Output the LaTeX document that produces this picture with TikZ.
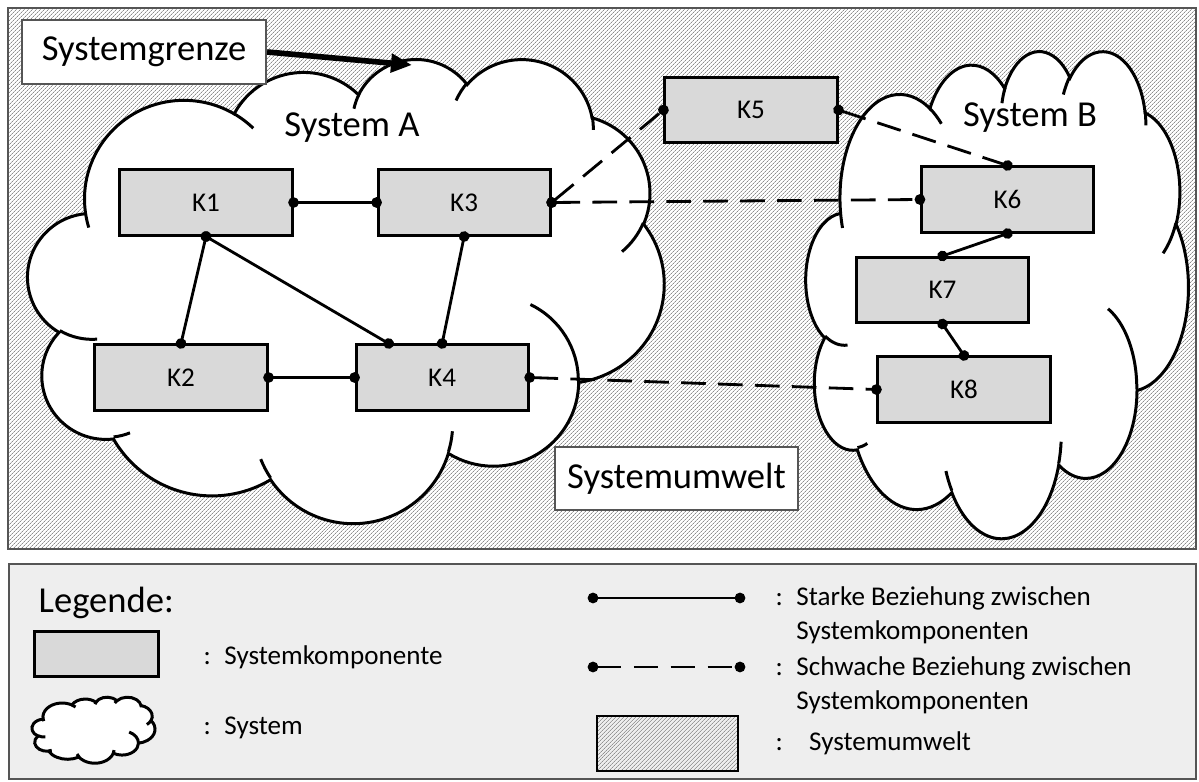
\documentclass[tikz,border=0pt]{standalone}
\usepackage{fontspec}
\setmainfont{Carlito}
\usepackage{tikz}
\usetikzlibrary{arrows.meta, positioning, calc, patterns.meta}

\definecolor{kompgrey}{RGB}{217,217,217}
\definecolor{leggrey}{RGB}{238,238,238}
\definecolor{framegrey}{RGB}{85,85,85}
\definecolor{hatchgrey}{RGB}{140,140,140}

\newcommand\bigfont{\fontsize{10.4}{12.5}\selectfont}
\newcommand\smallfont{\fontsize{7.7}{9.7}\selectfont}

% Wolke (Office-Form, Einheiten 0..432)
\newcommand\ooang[3]{(#3)+asin(sin(atan2((#1)*sin(#3),(#2)*cos(#3))-(#3)))}
\newcommand\ooarc[4]{arc[x radius=#1, y radius=#2, start angle={\ooang{#1}{#2}{#3}}, end angle={\ooang{#1}{#2}{#3+#4}}]}
\newcommand\cloudoutline{(39.00,143.70)
  \ooarc{67.53}{91.90}{-190.4875}{123.7805}
  \ooarc{53.33}{72.67}{-144.1024}{89.9452}
  \ooarc{43.65}{59.45}{-145.8079}{99.7230}
  \ooarc{48.57}{65.95}{-130.9861}{117.2417}
  \ooarc{53.33}{72.73}{-78.7089}{109.0269}
  \ooarc{67.75}{92.20}{-46.2673}{130.2690}
  \ooarc{57.85}{78.67}{0.6250}{114.0333}
  \ooarc{67.52}{92.15}{22.4516}{115.1726}
  \ooarc{77.20}{105.43}{66.2426}{75.7110}
  \ooarc{43.60}{59.18}{-274.9421}{146.7356}
  \ooarc{43.45}{59.45}{-246.8285}{152.5189}
  -- cycle}
\newcommand\cloudcurls{(46.93,261.77) \ooarc{43.45}{59.45}{86.7420}{26.4295}
  (69.28,348.99) \ooarc{43.60}{59.18}{73.6105}{11.4475}
  (164.78,390.90) \ooarc{67.52}{92.15}{137.6242}{14.0811}
  (288.27,347.51) \ooarc{67.52}{92.15}{6.4533}{15.9984}
  (341.29,229.54) \ooarc{57.85}{78.67}{-70.2924}{70.9174}
  (417.98,153.54) \ooarc{53.33}{72.73}{30.3180}{27.7515}
  (383.24,54.26) \ooarc{48.57}{65.95}{-13.7443}{14.8589}
  (290.78,39.52) \ooarc{48.57}{65.95}{-149.1815}{18.1954}
  (221.41,47.20) \ooarc{43.65}{59.45}{-163.4943}{17.6864}
  (140.00,51.92) \ooarc{67.53}{91.90}{-66.7070}{12.3194}
  (41.27,157.89) \ooarc{67.53}{91.90}{157.6544}{11.8582}}

\begin{document}
\begin{tikzpicture}[
        x=0.01cm, y=-0.01cm,
        node distance=0.83cm,
        komp/.style={rectangle, draw=black, line width=0.85pt, fill=kompgrey, minimum width=1.72cm, minimum height=0.65cm, inner sep=0pt, font=\smallfont},
        labelbox/.style={rectangle, draw=framegrey, line width=0.6pt, fill=white, inner sep=0pt, font=\bigfont},
        umwelt/.style={pattern={Lines[angle=45, distance=0.9pt, line width=0.28pt]}, pattern color=hatchgrey},
        cloudline/.style={draw=black, line width=0.85pt},
        strong/.style={line width=0.8pt, {Circle[length=3pt]}-{Circle[length=3pt]}, shorten <=-1.5pt, shorten >=-1.5pt},
        weak/.style={strong, dash pattern=on 7pt off 3.5pt},
        legtext/.style={font=\smallfont, inner sep=0pt, align=left}
    ]
        \useasboundingbox (0,0) rectangle (1199,782);

        % Systemumwelt
        \draw[framegrey, line width=0.6pt, fill=white] (8,8) rectangle (1196,549);
        \fill[umwelt] (8,8) rectangle (1196,549);
        \draw[framegrey, line width=0.6pt] (8,8) rectangle (1196,549);

        % Systeme
        \begin{scope}[shift={(28,58)}, xscale=1.4722, yscale=1.0741]
            \draw[cloudline, fill=white] \cloudoutline;
            \draw[cloudline] \cloudcurls;
        \end{scope}
        \begin{scope}[shift={(806,50)}, xscale=0.885, yscale=1.1273]
            \draw[cloudline, fill=white] \cloudoutline;
            \draw[cloudline] \cloudcurls;
        \end{scope}
        \node[font=\bigfont] (sysA) at (352,128) {System A};
        \node[font=\bigfont] (sysB) at (1030,118) {System B};

        % Komponenten
        \node[komp] (k1) at (206,202.5) {K1};
        \node[komp, right=of k1] (k3) {K3};
        \node[komp] (k2) at (181,377.5) {K2};
        \node[komp, right=0.86cm of k2] (k4) {K4};
        \node[komp] (k5) at (751,110) {K5};
        \node[komp] (k6) at (1007.5,199.5) {K6};
        \node[komp] (k7) at (942.5,290) {K7};
        \node[komp] (k8) at (964,389.5) {K8};

        % Beziehungen
        \draw[strong] (k1.east) -- (k3.west);
        \draw[strong] (k1.south) -- (k2.north);
        \draw[strong] (k1.south) -- ($(k4.north west)+(34,0)$);
        \draw[strong] (k3.south) -- (k4.north);
        \draw[strong] (k2.east) -- (k4.west);
        \draw[strong] (k6.south) -- (k7.north);
        \draw[strong] (k7.south) -- (k8.north);
        \draw[weak] (k3.east) -- (k5.west);
        \draw[weak] (k3.east) -- (k6.west);
        \draw[weak] (k5.east) -- (k6.north);
        \draw[weak] (k4.east) -- (k8.west);

        % Beschriftungen
        \node[labelbox, minimum width=2.44cm, minimum height=0.64cm] (grenze) at (144,52) {Systemgrenze};
        \coordinate (grenzeTip) at (412,65);
        \draw[line width=1.6pt, -{Triangle[length=0.21cm, width=0.18cm]}] (grenze.east) -- (grenzeTip);
        \node[labelbox, minimum width=2.43cm, minimum height=0.63cm] (umweltlabel) at (676.5,478.5) {Systemumwelt};

        % Legende
        \draw[framegrey, line width=0.6pt, fill=leggrey] (9,564) rectangle (1196,779);
        \node[font=\bigfont, anchor=west, inner sep=0pt] (legtitle) at (38,603) {Legende:};
        \node[komp, minimum width=1.23cm, minimum height=0.44cm] (legkomp) at (96.5,654) {};
        \node[legtext, anchor=west] (legkomptext) at (203,657) {:\enspace Systemkomponente};
        \begin{scope}[shift={(32,697)}, xscale=0.2847, yscale=0.1528]
            \draw[cloudline, fill=white] \cloudoutline;
            \draw[cloudline] \cloudcurls;
        \end{scope}
        \node[legtext, anchor=west] (legsystext) at (203,728) {:\enspace System};

        \coordinate (ls1) at (593,598);
        \coordinate (ls2) at (740,598);
        \draw[strong] (ls1) -- (ls2);
        \node[legtext, anchor=north west] (lstext) at (775,586) {:\enspace Starke Beziehung zwischen\\\phantom{:\enspace}Systemkomponenten};

        \coordinate (lw1) at (593,667);
        \coordinate (lw2) at (740,667);
        \draw[weak] (lw1) -- (lw2);
        \node[legtext, anchor=north west] (lwtext) at (775,656) {:\enspace Schwache Beziehung zwischen\\\phantom{:\enspace}Systemkomponenten};

        \node[rectangle, draw=black, line width=0.7pt, umwelt, minimum width=1.41cm, minimum height=0.55cm, inner sep=0pt] (legumwelt) at (667.5,743.5) {};
        \node[legtext, anchor=west] (legumwelttext) at (775,743) {:\enspace\, Systemumwelt};
    \end{tikzpicture}
\end{document}
